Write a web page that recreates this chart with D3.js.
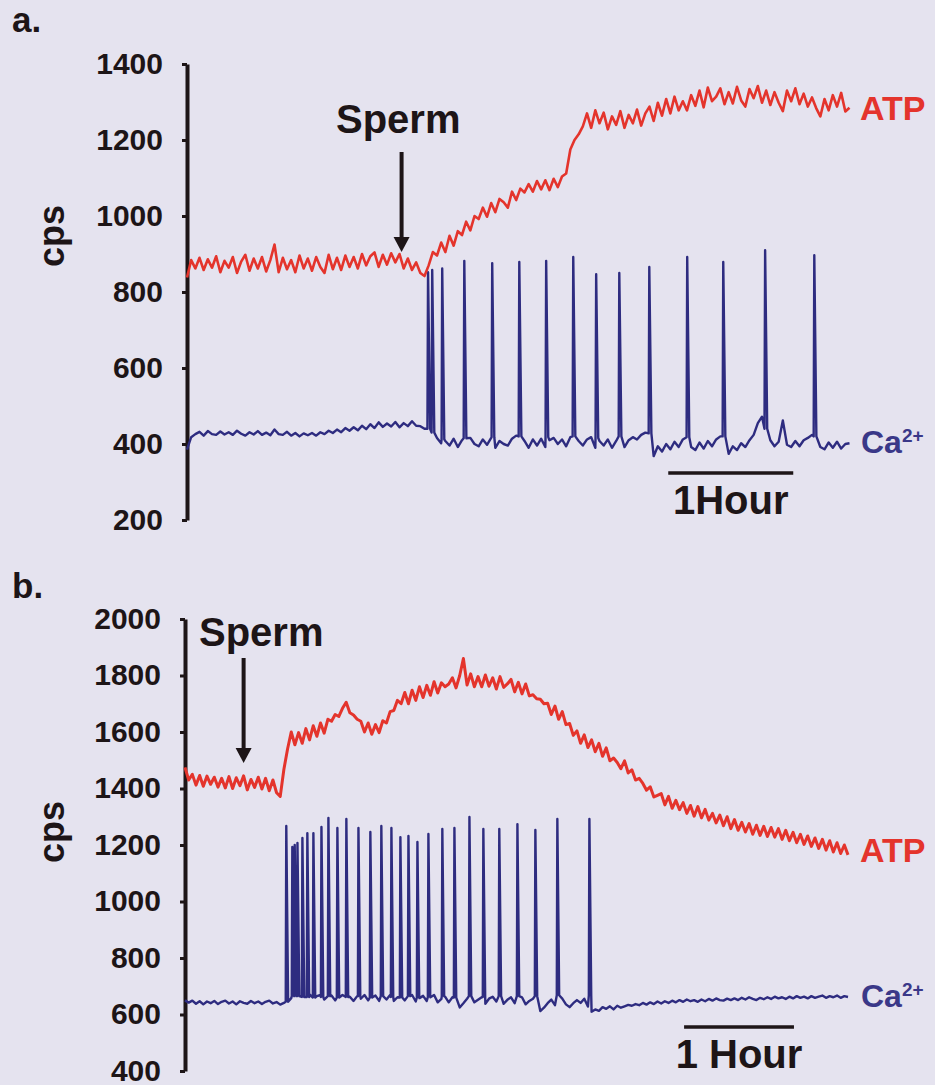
<!DOCTYPE html>
<html>
<head>
<meta charset="utf-8">
<script src="https://cdn.jsdelivr.net/npm/d3@7"></script>
<style>
  body { margin: 0; background: #e5e3ef; }
</style>
</head>
<body>
<div id="chart"></div>
<script>
// time axis is minutes, values are cps

// ---- panel a ----
const ticksA = [200, 400, 600, 800, 1000, 1200, 1400];
const stepA = 2; // minutes between samples
const atpA = [
  838, 884, 862, 890, 858, 886, 864, 894, 852, 882,
  864, 892, 850, 880, 898, 856, 888, 862, 892, 854,
  884, 925, 852, 890, 860, 884, 852, 896, 862, 888,
  856, 892, 866, 850, 898, 860, 890, 858, 896, 866,
  892, 862, 900, 870, 894, 904, 866, 898, 872, 902,
  878, 900, 862, 888, 858, 878, 850, 842, 870, 905,
  896, 930, 905, 948, 922, 960, 950, 985, 962, 1000,
  992, 1022, 998, 1034, 1010, 1045, 1036, 1022, 1064, 1042,
  1072, 1062, 1084, 1064, 1092, 1070, 1094, 1068, 1098, 1076,
  1104, 1112, 1175, 1200, 1215, 1236, 1270, 1232, 1278, 1244,
  1272, 1228, 1262, 1240, 1276, 1232, 1266, 1244, 1280, 1238,
  1270, 1288, 1250, 1298, 1264, 1308, 1270, 1314, 1278, 1302,
  1278, 1318, 1290, 1330, 1286, 1338, 1302, 1314, 1336, 1294,
  1326, 1296, 1340, 1304, 1288, 1334, 1310, 1342, 1298, 1330,
  1292, 1326, 1298, 1276, 1330, 1302, 1336, 1294, 1322, 1288,
  1312, 1284, 1262, 1308, 1278, 1318, 1288, 1324, 1275, 1285
];
const caBaseA = [
  385, 418, 426, 432, 422, 434, 426, 424, 433, 425,
  431, 424, 435, 427, 422, 431, 425, 434, 424, 430,
  423, 438, 426, 424, 432, 422, 429, 420, 428, 423,
  429, 422, 431, 426, 435, 429, 438, 431, 442, 435,
  444, 436, 448, 439, 452, 442, 457, 445, 454, 446,
  458, 444, 455, 447, 460, 448, 447, 440, 418, 405,
  416, 402, 408, 396, 414, 392, 410, 398, 416, 400,
  394, 412, 398, 416, 390, 408, 400, 396, 414, 422,
  392, 408, 390, 412, 396, 414, 392, 410, 416, 400,
  412, 394, 418, 390, 408, 396, 412, 418, 390, 408,
  396, 412, 390, 408, 416, 392, 410, 418, 412, 424,
  430, 385, 368, 394, 380, 400, 386, 406, 392, 412,
  416, 392, 384, 404, 388, 408, 394, 412, 420, 412,
  374, 394, 384, 402, 392, 410, 424, 455, 472, 432,
  410, 394, 406, 462, 398, 392, 408, 394, 410, 416,
  424, 398, 392, 386, 404, 390, 406, 388, 400, 402
];
// [start minute, peak, foot]
const caSpikesA = [
  [115.4, 852, 440], [117.4, 858, 430], [122.2, 862, 412], [132.8, 882, 415],
  [146.2, 876, 418], [159.2, 879, 420], [172.1, 882, 418], [185.1, 892, 420],
  [196.1, 847, 416], [207.2, 850, 420], [221.6, 866, 428], [239.8, 892, 418],
  [257.1, 879, 420], [277.2, 910, 440], [300.8, 897, 420]
];
const spermA = 103;
const hourBarA = 231;

// ---- panel b ----
const ticksB = [400, 600, 800, 1000, 1200, 1400, 1600, 1800, 2000];
const stepB = 2;
const atpB = [
  1475, 1430, 1450, 1412, 1446, 1408, 1444, 1415, 1440, 1405,
  1436, 1402, 1442, 1400, 1438, 1410, 1445, 1395, 1432, 1404,
  1440, 1398, 1436, 1392, 1430, 1385, 1372, 1468, 1540, 1600,
  1555, 1598, 1560, 1612, 1572, 1622, 1585, 1632, 1596, 1645,
  1638, 1662, 1655, 1684, 1705, 1668, 1660, 1645, 1638, 1600,
  1632, 1592, 1626, 1598, 1640, 1632, 1672, 1676, 1712, 1700,
  1740, 1700, 1748, 1712, 1760, 1722, 1765, 1730, 1778, 1738,
  1774, 1760, 1770, 1792, 1756, 1800, 1860, 1766, 1806, 1760,
  1796, 1760, 1802, 1762, 1792, 1752, 1796, 1758, 1770, 1786,
  1742, 1776, 1735, 1770, 1728, 1732, 1718, 1716, 1700, 1702,
  1662, 1692, 1645, 1672, 1626, 1630, 1588, 1604, 1560, 1590,
  1545, 1572, 1530, 1560, 1514, 1544, 1498, 1508, 1492, 1470,
  1498, 1455, 1466, 1430, 1436, 1418, 1394, 1406, 1370, 1376,
  1382, 1342, 1372, 1330, 1358, 1325, 1350, 1312, 1340, 1302,
  1336, 1296, 1326, 1288, 1312, 1278, 1306, 1268, 1300, 1258,
  1290, 1252, 1280, 1246, 1276, 1238, 1270, 1234, 1266, 1230,
  1262, 1228, 1258, 1220, 1252, 1215, 1245, 1208, 1238, 1202,
  1232, 1195, 1225, 1188, 1220, 1182, 1215, 1175, 1208, 1170,
  1200, 1165
];
const caBaseB = [
  650, 642, 649, 638, 647, 636, 646, 640, 648, 637,
  645, 649, 639, 646, 636, 647, 641, 638, 648, 640,
  646, 637, 645, 649, 639, 644, 635, 641, 670, 658,
  666, 670, 653, 663, 671, 656, 665, 669, 653, 661,
  667, 650, 661, 669, 653, 663, 648, 665, 656, 669,
  650, 661, 667, 648, 663, 653, 669, 648, 661, 665,
  650, 663, 669, 646, 658, 666, 648, 661, 669, 643,
  655, 663, 643, 661, 638, 625, 640, 656, 663, 643,
  652, 661, 638, 656, 663, 646, 657, 638, 652, 661,
  640, 650, 661, 636, 648, 656, 628, 612, 624, 640,
  653, 633, 645, 656, 636, 626, 640, 651, 641, 656,
  628, 610, 618, 613, 626, 620, 629, 618, 631, 624,
  629, 634, 631, 637, 633, 641, 635, 643, 637, 646,
  639, 647, 641, 649, 643, 651, 645, 653, 647, 651,
  645, 653, 647, 655, 649, 657, 651, 649, 656, 651,
  657, 651, 659, 653, 661, 655, 651, 659, 654, 661,
  655, 663, 657, 661, 655, 663, 657, 665, 659, 663,
  657, 665, 659, 663, 667, 659, 665, 661, 667, 659,
  665, 662
];
const caSpikesB = [
  [55.0, 1267, 645], [58.3, 1193, 665], [59.6, 1200, 665], [61.1, 1207, 665],
  [63.8, 1225, 662], [66.5, 1242, 662], [69.8, 1242, 660], [74.2, 1264, 662],
  [78.0, 1296, 665], [82.9, 1260, 660], [87.8, 1292, 662], [94.4, 1260, 665],
  [100.9, 1246, 660], [106.9, 1267, 665], [112.4, 1260, 662], [117.3, 1228, 660],
  [121.7, 1232, 665], [126.6, 1211, 660], [132.6, 1239, 662], [140.2, 1257, 665],
  [146.8, 1260, 660], [155.0, 1299, 665], [162.6, 1257, 662], [171.3, 1257, 665],
  [181.2, 1274, 665], [191.0, 1253, 665], [203.0, 1292, 668], [220.5, 1292, 668]
];
const spermB = 32;
const hourBarB = 272.5;

const RED = "#e4342c";
const BLUE = "#2e2c80";
const INK = "#1d1517";
const FONT = "'Liberation Sans', Arial, sans-serif";

const svg = d3.select("#chart").append("svg")
  .attr("width", 935)
  .attr("height", 1085)
  .style("display", "block");

svg.append("rect")
  .attr("width", 935)
  .attr("height", 1085)
  .attr("fill", "#e5e3ef");

function seriesPoints(vals, step) {
  return vals.map((v, i) => [i * step, v]);
}

function caPoints(base, step, spikes) {
  let pts = seriesPoints(base, step)
    .filter(p => !spikes.some(s => p[0] >= s[0] && p[0] <= s[0] + 1.3));
  spikes.forEach(s => {
    pts.push([s[0], s[2]], [s[0] + 0.3, s[1]], [s[0] + 1.3, s[2]]);
  });
  return pts.sort((a, b) => a[0] - b[0]);
}

function drawPanel(p) {
  let g = svg.append("g");

  g.append("text")
    .attr("x", 12)
    .attr("y", p.letterY)
    .attr("font-family", FONT)
    .attr("font-size", 35)
    .attr("font-weight", "bold")
    .attr("fill", INK)
    .text(p.letter);

  let axis = g.append("g")
    .attr("transform", `translate(${p.x.range()[0]},0)`)
    .call(d3.axisLeft(p.y)
      .tickValues(p.ticks)
      .tickFormat(d3.format("d"))
      .tickSize(5)
      .tickSizeOuter(0)
      .tickPadding(19));

  axis.attr("font-family", FONT)
    .attr("font-size", 30)
    .attr("font-weight", "bold");
  axis.select(".domain").attr("stroke", INK).attr("stroke-width", 4);
  axis.selectAll(".tick line").attr("stroke", INK).attr("stroke-width", 3);
  axis.selectAll(".tick text").attr("fill", INK).attr("dy", "0.3em");

  g.append("text")
    .attr("transform", `translate(64,${p.cpsY}) rotate(-90)`)
    .attr("text-anchor", "middle")
    .attr("font-family", FONT)
    .attr("font-size", 36)
    .attr("font-weight", "bold")
    .attr("fill", INK)
    .text("cps");

  let line = d3.line()
    .x(d => p.x(d[0]))
    .y(d => p.y(d[1]));

  g.append("path")
    .datum(caPoints(p.caBase, p.step, p.spikes))
    .attr("d", line)
    .attr("fill", "none")
    .attr("stroke", BLUE)
    .attr("stroke-width", 2.4)
    .attr("stroke-linejoin", "round");

  g.append("path")
    .datum(seriesPoints(p.atp, p.step))
    .attr("d", line)
    .attr("fill", "none")
    .attr("stroke", RED)
    .attr("stroke-width", p.atpWidth)
    .attr("stroke-linejoin", "round");

  // sperm arrow
  let ax = p.x(p.sperm);
  g.append("line")
    .attr("x1", ax).attr("x2", ax)
    .attr("y1", p.arrowTop).attr("y2", p.arrowBottom - 12)
    .attr("stroke", INK)
    .attr("stroke-width", 4);
  g.append("path")
    .attr("d", `M${ax - 8},${p.arrowBottom - 15}L${ax + 8},${p.arrowBottom - 15}L${ax},${p.arrowBottom}Z`)
    .attr("fill", INK);

  g.append("text")
    .attr("x", p.spermTextX)
    .attr("y", p.spermTextY)
    .attr("font-family", FONT)
    .attr("font-size", 40)
    .attr("font-weight", "bold")
    .attr("fill", INK)
    .text("Sperm");

  // series labels
  g.append("text")
    .attr("x", 860)
    .attr("y", p.atpLabelY)
    .attr("font-family", FONT)
    .attr("font-size", 34)
    .attr("font-weight", "bold")
    .attr("fill", RED)
    .text("ATP");

  let ca = g.append("text")
    .attr("x", 861)
    .attr("y", p.caLabelY)
    .attr("font-family", FONT)
    .attr("font-weight", "bold")
    .attr("fill", "#3a3888");
  ca.append("tspan")
    .attr("font-size", 32)
    .text("Ca");
  ca.append("tspan")
    .attr("font-size", 19)
    .attr("dy", -11)
    .text("2+");

  // one hour scale bar
  g.append("line")
    .attr("x1", p.x(p.hourBar))
    .attr("x2", p.x(p.hourBar + 60))
    .attr("y1", p.barY).attr("y2", p.barY)
    .attr("stroke", INK)
    .attr("stroke-width", 3.5);

  g.append("text")
    .attr("x", (p.x(p.hourBar) + p.x(p.hourBar + 60)) / 2)
    .attr("y", p.barY + 41)
    .attr("text-anchor", "middle")
    .attr("font-family", FONT)
    .attr("font-size", 40)
    .attr("font-weight", "bold")
    .attr("fill", INK)
    .text(p.barLabel);
}

drawPanel({
  letter: "a.", letterY: 32,
  ticks: ticksA,
  x: d3.scaleLinear().domain([0, 318]).range([187, 849.5]),
  y: d3.scaleLinear().domain([200, 1400]).range([520, 64]),
  step: stepA, atp: atpA, caBase: caBaseA, spikes: caSpikesA,
  atpWidth: 2.6,
  cpsY: 236,
  sperm: spermA, arrowTop: 152, arrowBottom: 252,
  spermTextX: 336, spermTextY: 133,
  atpLabelY: 120, caLabelY: 453,
  hourBar: hourBarA, barY: 473, barLabel: "1Hour"
});

drawPanel({
  letter: "b.", letterY: 598,
  ticks: ticksB,
  x: d3.scaleLinear().domain([0, 362]).range([185, 848]),
  y: d3.scaleLinear().domain([400, 2000]).range([1071, 619]),
  step: stepB, atp: atpB, caBase: caBaseB, spikes: caSpikesB,
  atpWidth: 3,
  cpsY: 832,
  sperm: spermB, arrowTop: 658, arrowBottom: 763,
  spermTextX: 199, spermTextY: 646,
  atpLabelY: 862, caLabelY: 1007,
  hourBar: hourBarB, barY: 1027, barLabel: "1 Hour"
});
</script>
</body>
</html>
